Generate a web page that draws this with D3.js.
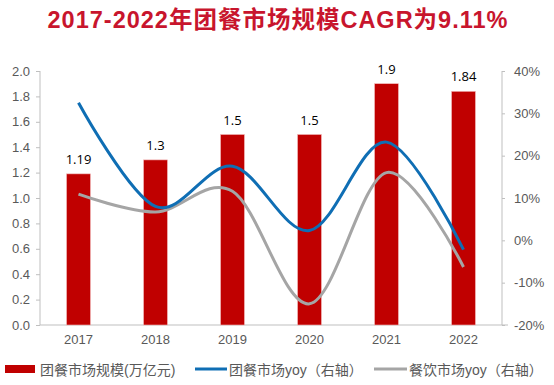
<!DOCTYPE html>
<html><head><meta charset="utf-8">
<script src="https://cdn.jsdelivr.net/npm/d3@7"></script>
<style>body{margin:0;background:#fff}svg{display:block}</style>
</head><body>
<svg id="c" width="554" height="385"></svg>
<script>
const years = ["2017","2018","2019","2020","2021","2022"];
const marketSize = [1.19, 1.3, 1.5, 1.5, 1.9, 1.84];
const groupYoy = [32.5, 8, 17.5, 2.3, 23.2, -2.2];
const cateringYoy = [10.9, 6.7, 11.6, -15, 16, -6.3];
const leftTicks = [0,0.2,0.4,0.6,0.8,1.0,1.2,1.4,1.6,1.8,2.0];
const rightTicks = [-20,-10,0,10,20,30,40];
const title = "2017-2022年团餐市场规模CAGR为9.11%";
const legendLabels = ["团餐市场规模(万亿元)","团餐市场yoy（右轴）","餐饮市场yoy（右轴）"];

const svg = d3.select("#c");
const L = 40, R = 502, T = 71, B = 325;
const font = "'Liberation Sans', Arial, 'Noto Sans CJK SC', sans-serif";
const cjk = "'Liberation Sans', 'Noto Sans CJK SC', sans-serif";

const x = d3.scaleBand().domain(years).range([L, R]).paddingInner(0.69).paddingOuter(0.345);
const yL = d3.scaleLinear().domain([0, 2]).range([B, T]);
const yR = d3.scaleLinear().domain([-20, 40]).range([B, T]);

svg.append("text").attr("x", 278).attr("y", 28).attr("text-anchor", "middle")
  .attr("font-family", cjk).attr("font-weight", "bold").attr("font-size", 23.5)
  .attr("letter-spacing", 1).attr("fill", "#C8152D").text(title);

// axes
const axL = svg.append("g").attr("transform", `translate(${L},0)`)
  .call(d3.axisLeft(yL).tickValues(leftTicks).tickFormat(d3.format(".1f")).tickSize(4).tickPadding(6));
const axR = svg.append("g").attr("transform", `translate(${R},0)`)
  .call(d3.axisRight(yR).tickValues(rightTicks).tickFormat(d => d + "%").tickSize(3).tickPadding(9));
const axB = svg.append("g").attr("transform", `translate(0,${B})`)
  .call(d3.axisBottom(x).tickSize(0).tickPadding(10));
[axL, axR, axB].forEach(a => {
  a.selectAll("path").attr("stroke", "#BFBFBF");
  a.selectAll("line").attr("stroke", "#BFBFBF");
  a.selectAll("text").attr("fill", "#595959").attr("font-family", font).attr("font-size", 13);
});
axR.selectAll(".tick line").attr("x1", 0).attr("x2", 3);
axL.selectAll("path").attr("d", `M0,${B}V${T}`);
axR.selectAll("path").attr("d", `M0,${B}V${T}`);
axB.selectAll("path").attr("d", `M${L},0H${R+6}`);

// bars
svg.append("g").selectAll("rect").data(years).join("rect")
  .attr("x", d => x(d)).attr("width", x.bandwidth())
  .attr("y", (d, i) => yL(marketSize[i])).attr("height", (d, i) => B - yL(marketSize[i]))
  .attr("fill", "#C00000").attr("stroke", "#F2B8B8").attr("stroke-width", 0.6);

svg.append("g").selectAll("text").data(years).join("text")
  .attr("x", d => x(d) + x.bandwidth() / 2).attr("y", (d, i) => yL(marketSize[i]) - 10)
  .attr("text-anchor", "middle").attr("font-family", "'Open Sans', sans-serif").attr("font-size", 13)
  .attr("fill", "#000").text((d, i) => marketSize[i]);

const line = (arr) => d3.line().curve(d3.curveCardinal.tension(0))
  .x((d, i) => x(years[i]) + x.bandwidth() / 2).y(d => yR(d))(arr);
svg.append("path").attr("d", line(cateringYoy)).attr("fill", "none").attr("stroke", "#A5A5A5").attr("stroke-width", 3);
svg.append("path").attr("d", line(groupYoy)).attr("fill", "none").attr("stroke", "#0F6EB4").attr("stroke-width", 3);

// legend
const lg = svg.append("g").attr("font-family", cjk).attr("font-size", 14).attr("fill", "#595959");
lg.append("rect").attr("x", 5).attr("y", 365).attr("width", 30).attr("height", 8).attr("fill", "#C00000");
lg.append("text").attr("x", 40).attr("y", 375).text(legendLabels[0]);
lg.append("line").attr("x1", 195).attr("x2", 227).attr("y1", 369).attr("y2", 369).attr("stroke", "#0F6EB4").attr("stroke-width", 3);
lg.append("text").attr("x", 229).attr("y", 375).text(legendLabels[1]);
lg.append("line").attr("x1", 374).attr("x2", 407).attr("y1", 369).attr("y2", 369).attr("stroke", "#A5A5A5").attr("stroke-width", 3);
lg.append("text").attr("x", 409).attr("y", 375).text(legendLabels[2]);
</script>
</body></html>
